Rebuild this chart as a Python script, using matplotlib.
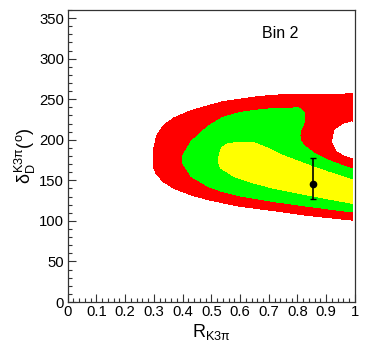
import matplotlib
matplotlib.use('Agg')
import matplotlib.pyplot as plt
from matplotlib.ticker import MultipleLocator, FuncFormatter

plt.rcParams['font.family'] = ['Liberation Sans', 'DejaVu Sans']
plt.rcParams['mathtext.fontset'] = 'custom'
plt.rcParams['mathtext.rm'] = 'Liberation Sans'
plt.rcParams['mathtext.it'] = 'Liberation Sans'
plt.rcParams['mathtext.bf'] = 'Liberation Sans:bold'

# contour boundaries (R_K3pi, delta_D)
red_x = [0.30, 0.31, 0.335, 0.37, 0.43, 0.49, 0.54, 0.60, 0.66, 0.72, 0.78, 0.99,
         0.99, 0.83, 0.72, 0.60, 0.49, 0.43, 0.37, 0.335, 0.31, 0.30]
red_y = [190, 205, 218, 227, 236, 242, 247, 250, 253, 255, 256, 256.5,
         101, 107, 112.5, 118, 126, 132, 140, 148, 157, 165]

hole_x = [0.99, 0.96, 0.93, 0.922, 0.936, 0.965, 0.99]
hole_y = [222, 219, 212, 198, 187, 181, 178]

green_x = [0.40, 0.43, 0.49, 0.54, 0.60, 0.66, 0.72, 0.78, 0.80, 0.815, 0.825,
           0.826, 0.82, 0.812, 0.808, 0.812, 0.825, 0.856, 0.90, 0.95, 0.99,
           0.99, 0.83, 0.72, 0.60, 0.54, 0.49, 0.43, 0.40]
green_y = [180, 198, 217, 227.5, 233.7, 236.6, 238.7, 239, 239.5, 237, 232,
           225, 218, 212, 205, 198, 192, 184, 175.6, 169, 164,
           111, 118.3, 123.7, 130.8, 136, 142.4, 154.8, 171.5]

yellow_x = [0.527, 0.535, 0.556, 0.60, 0.648, 0.694, 0.74, 0.787, 0.833, 0.90, 0.99,
            0.99, 0.833, 0.717, 0.648, 0.579, 0.533, 0.525]
yellow_y = [180, 190, 195, 197, 196.4, 190, 181.8, 175.6, 169.4, 161, 150.7,
            121.7, 132, 140.3, 146.6, 154.8, 165.2, 172]

# measured point
pt_x = [0.853]
pt_y = [146]
pt_err_lo = [19]
pt_err_hi = [32]

fig = plt.figure(figsize=(3.74, 3.57), dpi=100)
ax = fig.add_axes([0.181, 0.154, 0.768, 0.818])

ax.fill(red_x, red_y, color='#ff0000', lw=0, antialiased=False)
ax.fill(hole_x, hole_y, color='white', lw=0, antialiased=False)
ax.fill(green_x, green_y, color='#00ff00', lw=0, antialiased=False)
ax.fill(yellow_x, yellow_y, color='#ffff00', lw=0, antialiased=False)

ax.errorbar(pt_x, pt_y, yerr=[pt_err_lo, pt_err_hi], fmt='o', color='black',
            ms=4.5, elinewidth=1.2, capsize=2, capthick=1)

ax.set_xlim(0, 1)
ax.set_ylim(0, 360)
ax.xaxis.set_major_locator(MultipleLocator(0.1))
ax.xaxis.set_minor_locator(MultipleLocator(0.02))
ax.yaxis.set_major_locator(MultipleLocator(50))
ax.yaxis.set_minor_locator(MultipleLocator(10))
ax.xaxis.set_major_formatter(FuncFormatter(lambda v, p: '%g' % round(v, 2)))
ax.tick_params(which='both', direction='in', labelsize=10.7, color='#333333')
ax.tick_params(which='major', length=5.8, width=0.8)
ax.tick_params(which='minor', length=2.9, width=0.8)
ax.tick_params(axis='x', pad=2.5)
ax.tick_params(axis='y', pad=2.5)
for s in ax.spines.values():
    s.set_color('#333333')
    s.set_linewidth(0.9)

ax.set_xlabel(r'R$_{\mathrm{K3\pi}}$', fontsize=13, labelpad=2)
ax.set_ylabel(r'$\delta_{\mathrm{D}}^{\mathrm{K3\pi}}$(${}^{\mathrm{o}}$)', fontsize=13, labelpad=1)
ax.text(0.676, 0.904, 'Bin 2', transform=ax.transAxes, fontsize=11.5)

fig.savefig('out.png', dpi=100)
